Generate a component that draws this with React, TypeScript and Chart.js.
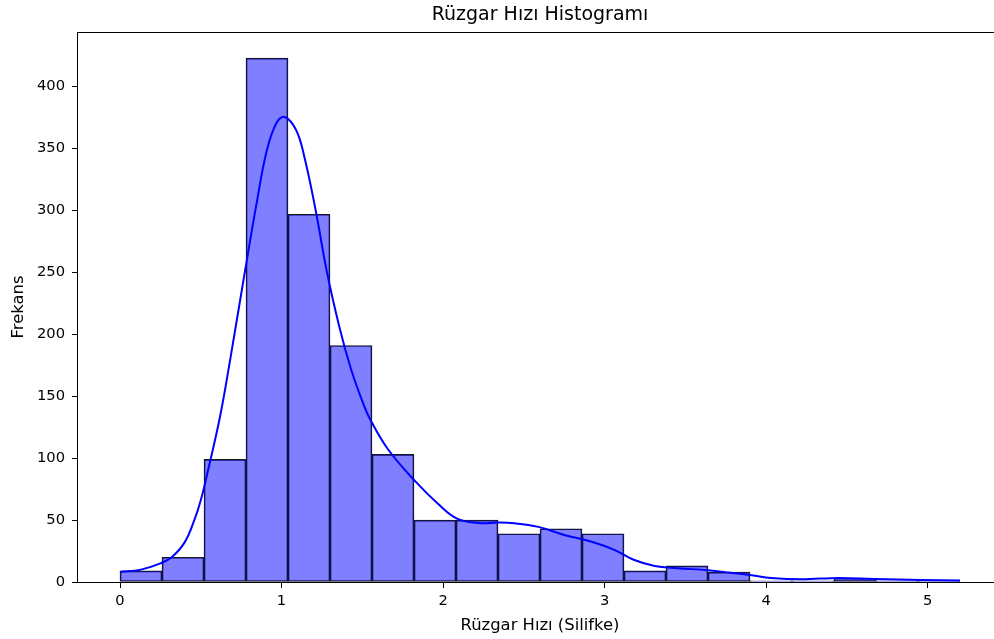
import React, { useEffect, useRef } from "react";
import { Chart, registerables } from "chart.js";

Chart.register(...registerables);

// Histogram bins (wind speed, m/s) and counts per bin
const binEdges = [0, 0.26, 0.52, 0.78, 1.04, 1.3, 1.56, 1.82, 2.08, 2.34, 2.6, 2.86, 3.12, 3.38, 3.64, 3.9, 4.16, 4.42, 4.68, 4.94, 5.2];
const counts = [9, 20, 99, 423, 297, 191, 103, 50, 50, 39, 43, 39, 9, 13, 8, 1, 1, 3, 1, 1];

// Kernel density estimate, scaled to counts
const kdeX = [0, 0.13, 0.25, 0.32, 0.4, 0.46, 0.5, 0.55, 0.62, 0.68, 0.775, 0.85, 0.91, 0.97, 1.02, 1.09, 1.14, 1.21, 1.28, 1.36, 1.43, 1.5, 1.55, 1.66, 1.83, 1.97, 2.09, 2.23, 2.34, 2.44, 2.59, 2.75, 2.92, 3.06, 3.18, 3.31, 3.45, 3.64, 3.78, 3.91, 4.03, 4.22, 4.45, 4.67, 4.96, 5.2];
const kdeY = [8, 10, 15, 20, 32, 50, 66, 93, 134, 178, 252, 309, 349, 371, 375.5, 365, 344, 301, 251, 205, 172, 146, 131, 107, 81, 63, 51, 47.5, 48, 47.5, 44.5, 38, 32.5, 26, 18, 13, 11.2, 9.5, 7.5, 5.5, 3.3, 2.2, 3.3, 2.4, 1.6, 1.3];

const xTicks = [0, 1, 2, 3, 4, 5];
const yTicks = [0, 50, 100, 150, 200, 250, 300, 350, 400];

const title = "Rüzgar Hızı Histogramı";
const xLabel = "Rüzgar Hızı (Silifke)";
const yLabel = "Frekans";

const FONT = "'DejaVu Sans', sans-serif";

const framePlugin = {
  id: "frame",
  afterDraw(chart: any) {
    const { ctx, chartArea } = chart;
    ctx.save();
    ctx.strokeStyle = "#000";
    ctx.lineWidth = 1;
    ctx.strokeRect(
      Math.round(chartArea.left) - 0.5,
      Math.round(chartArea.top) + 0.5,
      Math.round(chartArea.right - chartArea.left),
      Math.round(chartArea.bottom - chartArea.top)
    );
    ctx.restore();
  },
};

export default function App() {
  const canvasRef = useRef<HTMLCanvasElement | null>(null);

  useEffect(() => {
    if (!canvasRef.current) return;
    const barData = counts.map((c, i) => ({
      x: (binEdges[i] + binEdges[i + 1]) / 2,
      y: c,
    }));
    const kdeData = kdeX.map((x, i) => ({ x, y: kdeY[i] }));
    const maxCount = Math.max(...counts);

    const chart = new Chart(canvasRef.current, {
      type: "bar",
      data: {
        datasets: [
          {
            type: "line",
            data: kdeData,
            borderColor: "#0000ff",
            borderWidth: 2,
            pointRadius: 0,
            fill: false,
            tension: 0.4,
            order: 1,
          } as any,
          {
            type: "bar",
            data: barData,
            backgroundColor: "rgba(0,0,255,0.5)",
            borderColor: "rgba(0,0,0,0.9)",
            borderWidth: 1,
            borderSkipped: false,
            barPercentage: 1,
            categoryPercentage: 1,
            order: 2,
          } as any,
        ],
      },
      options: {
        animation: false,
        responsive: false,
        maintainAspectRatio: false,
        devicePixelRatio: 1,
        layout: { padding: { left: 0, right: 8, top: 0, bottom: 0 } },
        plugins: {
          legend: { display: false },
          tooltip: { enabled: false },
          title: {
            display: true,
            text: title,
            fullSize: false,
            color: "#000",
            font: { family: FONT, size: 19, weight: "normal", lineHeight: 1.2 },
            padding: { top: 4, bottom: 5.2 },
          },
        },
        scales: {
          x: {
            type: "linear",
            min: -0.26,
            max: 5.46,
            offset: false,
            border: { display: false },
            grid: {
              display: true,
              drawOnChartArea: false,
              drawTicks: true,
              tickLength: 6,
              color: "#000",
              offset: false,
            },
            ticks: {
              color: "#000",
              font: { family: FONT, size: 14.7 },
              padding: 4,
              includeBounds: false,
              autoSkip: false,
              maxRotation: 0,
              callback: (v: any) => String(v),
            },
            afterBuildTicks: (s: any) => {
              s.ticks = xTicks.map((v) => ({ value: v }));
            },
            afterFit: (s: any) => {
              s.height = 57;
            },
            title: {
              display: true,
              text: xLabel,
              color: "#000",
              font: { family: FONT, size: 16.4, lineHeight: 1.2 },
              padding: { top: 0, bottom: 3.7 },
            },
          },
          y: {
            type: "linear",
            min: 0,
            max: maxCount * 1.05,
            border: { display: false },
            grid: {
              display: true,
              drawOnChartArea: false,
              drawTicks: true,
              tickLength: 6,
              color: "#000",
            },
            ticks: {
              color: "#000",
              font: { family: FONT, size: 14.7 },
              padding: 7,
              includeBounds: false,
              autoSkip: false,
              callback: (v: any) => String(v),
            },
            afterBuildTicks: (s: any) => {
              s.ticks = yTicks.map((v) => ({ value: v }));
            },
            afterFit: (s: any) => {
              s.width = 78;
            },
            title: {
              display: true,
              text: yLabel,
              color: "#000",
              font: { family: FONT, size: 16.4, lineHeight: 1.2 },
              padding: { top: 8.5, bottom: 0 },
            },
          },
        },
      },
      plugins: [framePlugin],
    });

    return () => chart.destroy();
  }, []);

  return (
    <div
      style={{
        position: "fixed",
        left: 0,
        top: 0,
        width: 994,
        height: 639,
        overflow: "hidden",
        background: "#fff",
      }}
    >
      <canvas ref={canvasRef} width={1010} height={639} style={{ display: "block" }} />
    </div>
  );
}
